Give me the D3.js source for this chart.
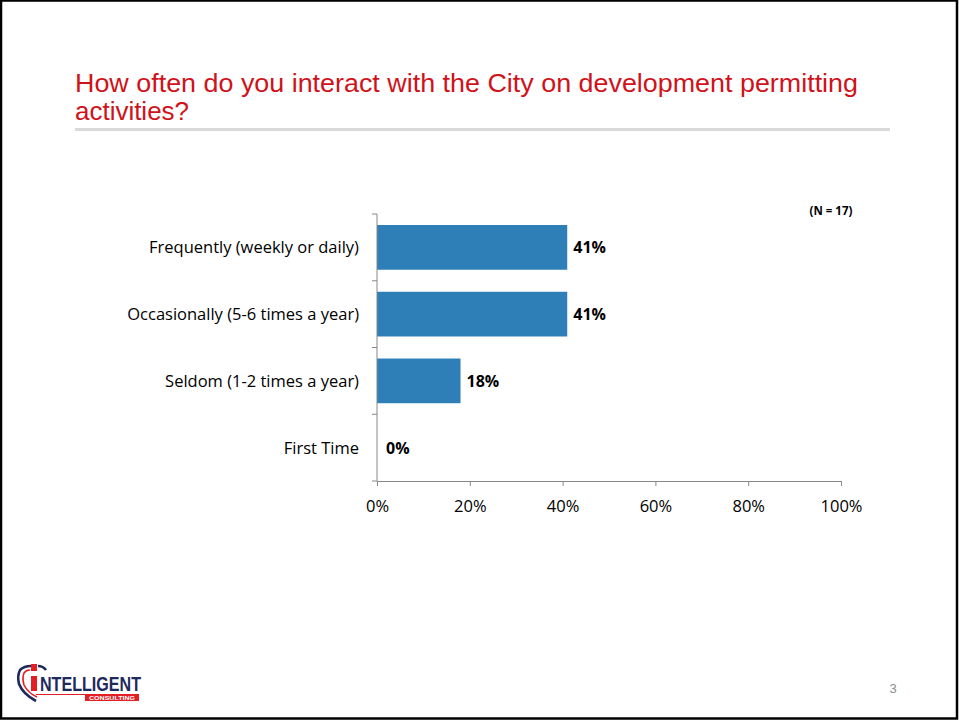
<!DOCTYPE html>
<html>
<head>
<meta charset="utf-8">
<script src="https://cdn.jsdelivr.net/npm/d3@7"></script>
<style>
  html, body { margin: 0; padding: 0; background: #fff; }
  svg { display: block; }
</style>
</head>
<body>
<svg id="slide" width="959" height="721"></svg>
<script>
// Survey responses: share of respondents per interaction frequency
const categories = [
  "Frequently (weekly or daily)",
  "Occasionally (5-6 times a year)",
  "Seldom (1-2 times a year)",
  "First Time"
];
const shares = [0.41, 0.41, 0.18, 0];
const shareLabels = ["41%", "41%", "18%", "0%"];
const xTicks = [0, 0.2, 0.4, 0.6, 0.8, 1.0];
const titleLines = [
  "How often do you interact with the City on development permitting",
  "activities?"
];
const sampleNote = "(N = 17)";
const pageNumber = "3";

const svg = d3.select("#slide");
const W = 959, H = 721;
const bodyFont = "'Open Sans', sans-serif";

// slide frame
svg.append("rect").attr("x", 1).attr("y", 0.5).attr("width", W - 3).attr("height", H - 3)
  .attr("fill", "#fff").attr("stroke", "#000").attr("stroke-width", 2.5);

// title
svg.append("g").selectAll("text").data(titleLines).join("text")
  .attr("x", 75).attr("y", (d, i) => 92 + i * 28)
  .attr("fill", "#d0121b")
  .attr("font-family", "'Liberation Sans Narrow', 'Arial Narrow', 'Liberation Sans', Arial, sans-serif")
  .attr("font-size", 25)
  .attr("textLength", (d, i) => i === 0 ? 783 : 114)
  .attr("lengthAdjust", "spacingAndGlyphs")
  .text(d => d);

svg.append("rect").attr("x", 75).attr("y", 128).attr("width", 815).attr("height", 3)
  .attr("fill", "#d9d9d9");

// chart scales
const x = d3.scaleLinear().domain([0, 1]).range([377, 841]);
const y = d3.scaleBand().domain(categories).range([214, 481]).paddingInner(0.33).paddingOuter(0.165);
const yTickPositions = d3.range(categories.length + 1).map(i => 214 + i * (481 - 214) / categories.length);

const chart = svg.append("g");

// bars
chart.selectAll("rect.bar").data(categories).join("rect")
  .attr("class", "bar")
  .attr("x", x(0))
  .attr("y", d => y(d))
  .attr("width", (d, i) => x(shares[i]) - x(0))
  .attr("height", y.bandwidth())
  .attr("fill", "#2e7eb8");

// value labels
chart.selectAll("text.val").data(categories).join("text")
  .attr("class", "val")
  .attr("x", (d, i) => x(shares[i]) + (shares[i] === 0 ? 9 : 6))
  .attr("y", d => y(d) + y.bandwidth() / 2 + 6)
  .attr("font-family", bodyFont).attr("font-size", 16).attr("font-weight", "bold")
  .attr("fill", "#000")
  .text((d, i) => shareLabels[i]);

// category axis line and ticks
const axisColor = "#888";
chart.append("line").attr("x1", 377).attr("x2", 377).attr("y1", 214).attr("y2", 481)
  .attr("stroke", axisColor).attr("stroke-width", 1);
chart.selectAll("line.ytick").data(yTickPositions).join("line")
  .attr("class", "ytick")
  .attr("x1", 372).attr("x2", 377).attr("y1", d => d).attr("y2", d => d)
  .attr("stroke", axisColor);

chart.selectAll("text.cat").data(categories).join("text")
  .attr("class", "cat")
  .attr("x", 359)
  .attr("y", d => y(d) + y.bandwidth() / 2 + 6)
  .attr("text-anchor", "end")
  .attr("font-family", bodyFont).attr("font-size", 16.5).attr("fill", "#000")
  .text(d => d);

// value axis
const xAxis = d3.axisBottom(x).tickValues(xTicks).tickFormat(d3.format(".0%")).tickSize(5).tickSizeOuter(0);
const gx = chart.append("g").attr("transform", "translate(0,481)").call(xAxis);
gx.select(".domain").attr("stroke", axisColor);
gx.selectAll(".tick line").attr("stroke", axisColor);
gx.selectAll(".tick text").attr("dy", 0).attr("y", 31)
  .attr("font-family", bodyFont).attr("font-size", 16.5).attr("fill", "#000");

// sample size note
svg.append("text").attr("x", 831).attr("y", 215).attr("text-anchor", "middle")
  .attr("font-family", bodyFont).attr("font-size", 11.5).attr("font-weight", "bold")
  .text(sampleNote);

// page number
svg.append("text").attr("x", 893).attr("y", 693).attr("text-anchor", "middle")
  .attr("font-family", "'Liberation Sans', Arial, sans-serif").attr("font-size", 13).attr("fill", "#8c8c8c")
  .text(pageNumber);

// company logo: shield outline, red "i", wordmark and tagline box
const navy = "#1d2a5c", red = "#e31e24";
const logo = svg.append("g");
logo.append("path")
  .attr("d", "M31,666 Q24,666 20,670 Q17,676 19,684 Q23,694 36,701")
  .attr("fill", "none").attr("stroke", navy).attr("stroke-width", 2.6);
logo.append("path")
  .attr("d", "M30,670 Q26,670 24,673 Q22,678 24,685 Q28,693 37,697")
  .attr("fill", "none").attr("stroke", red).attr("stroke-width", 1.6);
logo.append("path")
  .attr("d", "M38,666 Q43,666 46,670")
  .attr("fill", "none").attr("stroke", navy).attr("stroke-width", 2.6);
logo.append("rect").attr("x", 31).attr("y", 664).attr("width", 6).attr("height", 7).attr("fill", red);
logo.append("rect").attr("x", 31).attr("y", 676).attr("width", 6).attr("height", 15).attr("fill", red);
logo.append("line").attr("x1", 36).attr("x2", 86).attr("y1", 694.5).attr("y2", 694.5)
  .attr("stroke", red).attr("stroke-width", 1.2);
logo.append("text").attr("x", 40).attr("y", 690.5)
  .attr("font-family", "'Liberation Sans Narrow', 'Arial Narrow', 'Liberation Sans', sans-serif")
  .attr("font-weight", "bold").attr("font-size", 19.5).attr("fill", navy)
  .attr("textLength", 101).attr("lengthAdjust", "spacingAndGlyphs")
  .text("NTELLIGENT");
logo.append("rect").attr("x", 85).attr("y", 694).attr("width", 54).attr("height", 7).attr("fill", red);
logo.append("text").attr("x", 112).attr("y", 699.6).attr("text-anchor", "middle")
  .attr("font-family", "'Liberation Sans', sans-serif").attr("font-weight", "bold")
  .attr("font-size", 5.5).attr("fill", "#fff")
  .attr("textLength", 46).attr("lengthAdjust", "spacingAndGlyphs")
  .text("CONSULTING");
</script>
</body>
</html>
